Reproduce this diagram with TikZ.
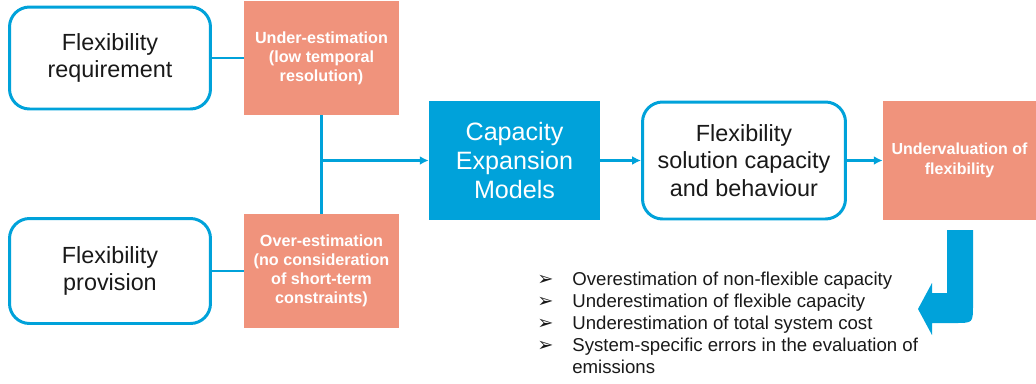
\documentclass[tikz,border=0pt]{standalone}
\usepackage{fontspec}
\setmainfont{Liberation Sans}
\newfontfamily\symfont{DejaVu Sans}
\usetikzlibrary{arrows.meta}
\definecolor{flexblue}{RGB}{0,162,218}
\definecolor{salmon}{RGB}{240,147,124}
\definecolor{inktext}{RGB}{25,25,25}
\tikzset{
  roundbox/.style={draw=flexblue,line width=1.7pt,rounded corners=0.4cm,fill=white,
    align=center,text=inktext,font=\fontsize{13.3}{15}\selectfont},
  errbox/.style={fill=salmon,align=center,text=white,
    font=\fontsize{9.2}{10.8}\selectfont\bfseries},
  link/.style={draw=flexblue,line width=1.5pt},
  linkarrow/.style={link,-{Latex[length=5pt,width=5pt]}}
}
\newcommand{\bul}{\makebox[0.7cm][l]{\symfont\fontsize{11}{11}\selectfont ➢}}
\begin{document}
\begin{tikzpicture}[x=0.02cm,y=-0.02cm]
      \useasboundingbox (0,0) rectangle (1036,383);
      \node[roundbox,minimum width=4.02cm,minimum height=2.04cm] (req) at (110,58) {Flexibility\\requirement};
      \node[roundbox,minimum width=4.02cm,minimum height=2.1cm] (prov) at (110,271) {Flexibility\\provision};
      \node[errbox,minimum width=3.1cm,minimum height=2.28cm] (under) at (321.5,58) {Under-estimation\\(low temporal\\resolution)};
      \node[errbox,minimum width=3.1cm,minimum height=2.28cm] (over) at (321.5,271) {Over-estimation\\(no consideration\\of short-term\\constraints)};
      \node[fill=flexblue,text=white,align=center,minimum width=3.42cm,minimum height=2.38cm,
        font=\fontsize{14.3}{16.5}\selectfont] (cem) at (514.5,160.5) {Capacity\\Expansion\\Models};
      \node[roundbox,minimum width=4.06cm,minimum height=2.34cm,font=\fontsize{13.3}{15.8}\selectfont] (sol) at (744,160.5) {Flexibility\\solution capacity\\and behaviour};
      \node[errbox,minimum width=3.06cm,minimum height=2.38cm,font=\fontsize{9.1}{11}\selectfont\bfseries] (underval) at (959.5,160.5) {Undervaluation of\\flexibility};
      \coordinate (join) at (under.south |- cem.west);
      \draw[link] (req.east) -- (under.west);
      \draw[link] (prov.east) -- (over.west);
      \draw[link] (under.south) -- (over.north);
      \draw[linkarrow] (join) -- (cem.west);
      \draw[linkarrow] (cem.east) -- (sol.west);
      \draw[linkarrow] (sol.east) -- (underval.west);
      % turning arrow
      \fill[flexblue] (947,230) -- (973,230) -- (973,305) .. controls (973,323) .. (955,323)
        -- (932,323) -- (932,335) -- (918,309) -- (932,283) -- (932,293) -- (947,293) -- cycle;
      \node[anchor=north west,align=left,text=inktext,inner sep=0pt,
        font=\fontsize{10.6}{12.5}\selectfont] (effects) at (537,272)
        {\bul Overestimation of non-flexible capacity\\
         \bul Underestimation of flexible capacity\\
         \bul Underestimation of total system cost\\
         \bul System-specific errors in the evaluation of\\
         \hspace*{0.7cm}emissions};
\end{tikzpicture}
\end{document}
